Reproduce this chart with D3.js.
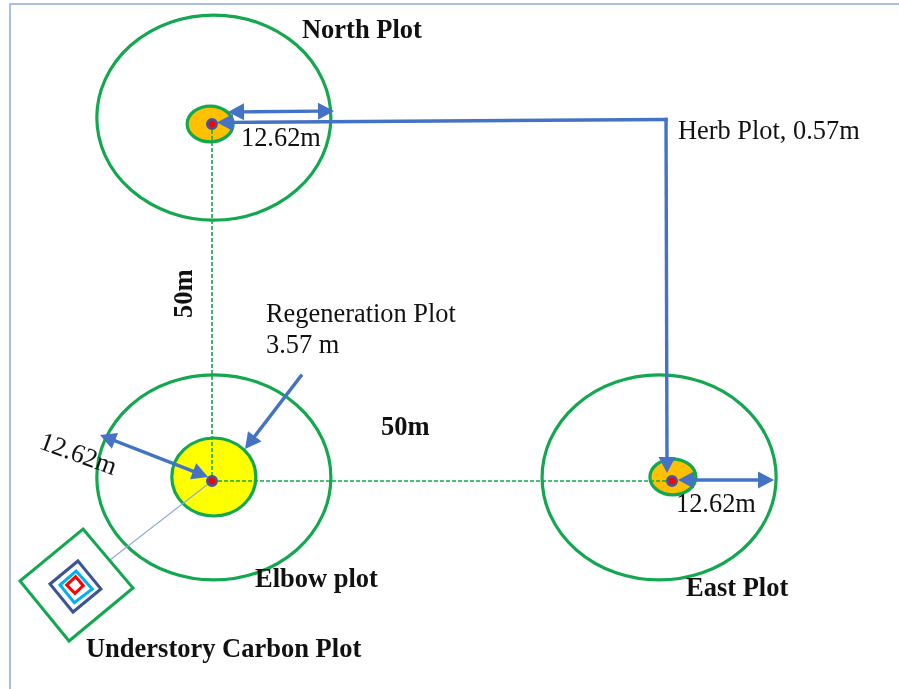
<!DOCTYPE html>
<html>
<head>
<meta charset="utf-8">
<script src="https://cdn.jsdelivr.net/npm/d3@7"></script>
<style>
  body { margin: 0; background: #fff; }
  svg { filter: blur(0.4px); }
  text { font-family: "Liberation Serif", serif; fill: #111; }
</style>
</head>
<body>
<div id="vis"></div>
<script>
// Schematic units: 50 units between the plot centres on each axis
// (the drawing is stretched, so x and y use different scales)
const plotCentres = [[0, 50], [0, 0], [50, 0]]
const bigPlots = [[0.2, 50.9], [0.2, 0.5], [48.6, 0.5]]
const bigRadius = [12.72, 14.36]
const herbPlots = [[-0.2, 50], [50.1, 0.56]]
const herbRadius = [2.5, 2.5]
const regenPlot = [0.2, 0.56]
const regenRadius = [4.57, 5.46]

const dashedLines = [
    [[0, 50], [0, 0]],
    [[0, 0], [50, 0]]
]
const carbonLeader = [[0, 0], [-11.09, -11.06]]

// Nested squares of the understory carbon plot, outermost first
const carbonSquares = [
    [[-14.02, -6.72], [-8.59, -14.99], [-15.54, -22.41], [-20.87, -14.01]],
    [[-14.57, -11.2], [-12.07, -15.13], [-15.11, -18.35], [-17.61, -14.43]],
    [[-14.78, -12.61], [-13.01, -15.13], [-14.97, -17.04], [-16.52, -14.57]],
    [[-14.82, -13.4], [-13.99, -14.66], [-14.89, -15.73], [-15.79, -14.57]]
]
const squareColours = ["#13a84f", "#3b5592", "#00b0f0", "#ff0000"]

const singleArrows = [
    [[49.35, 50.63], [0.54, 50.21]],
    [[49.35, 50.63], [49.46, 1.12]],
    [[9.67, 14.71], [3.59, 4.48]]
]
const doubleArrows = [
    [[1.74, 51.68], [13.26, 51.82]],
    [[50.65, 0.14], [61.09, 0.14]],
    [[-12.17, 6.44], [-0.43, 0.56]]
]

const plainLabels = [
    ["Herb Plot, 0.57m", 50.65, 47.9],
    ["12.62m", 3.15, 46.92],
    ["12.62m", 50.43, -4.34],
    ["Regeneration Plot", 5.87, 22.27],
    ["3.57 m", 5.87, 17.93]
]
const boldLabels = [
    ["North Plot", 9.78, 62.04],
    ["50m", 18.37, 6.44],
    ["Elbow plot", 4.67, -14.85],
    ["East Plot", 51.52, -16.1],
    ["Understory Carbon Plot", -13.7, -24.65]
]
const rotatedPlain = ["12.62m", -18.92, 4.62]
const rotatedBold = ["50m", -2.17, 22.83]

const width = 899
const height = 689
const green = "#13a84f"
const blue = "#4472c4"
const headLength = 16
const headWidth = 17

var x_scale = d3.scaleLinear().domain([0, 50]).range([212, 672])
var y_scale = d3.scaleLinear().domain([0, 50]).range([481, 124])

// Radii are lengths, so take them from the slope of each scale
const rx = function(u) { return Math.abs(x_scale(u) - x_scale(0)) }
const ry = function(u) { return Math.abs(y_scale(u) - y_scale(0)) }
const toPx = function(p) { return [x_scale(p[0]), y_scale(p[1])] }

let svg = d3.select("#vis")
    .append("svg")
    .attr("width", width)
    .attr("height", height)
    .style("display", "block")

// Page frame, only the top and left edges are visible
svg.append("path")
    .attr("d", `M10,${height}V4H${width}`)
    .attr("fill", "none")
    .attr("stroke", "#8faadc")
    .attr("stroke-width", 1.5)

function ellipses(data, radius, fill) {
    svg.append("g").selectAll("ellipse")
        .data(data)
        .enter()
        .append("ellipse")
        .attr("cx", d => x_scale(d[0]))
        .attr("cy", d => y_scale(d[1]))
        .attr("rx", rx(radius[0]))
        .attr("ry", ry(radius[1]))
        .attr("fill", fill)
        .attr("stroke", green)
        .attr("stroke-width", 3.2)
}

ellipses(bigPlots, bigRadius, "none")
ellipses([regenPlot], regenRadius, "#ffff00")
ellipses(herbPlots, herbRadius, "#ffc000")

const line = d3.line()

svg.append("g").selectAll("path")
    .data(dashedLines)
    .enter()
    .append("path")
    .attr("d", d => line(d.map(toPx)))
    .attr("stroke", green)
    .attr("stroke-width", 1.6)
    .attr("stroke-dasharray", "4 2")

svg.append("path")
    .attr("d", line(carbonLeader.map(toPx)))
    .attr("stroke", "#8faadc")
    .attr("stroke-width", 1.2)

svg.append("g").selectAll("path")
    .data(carbonSquares)
    .enter()
    .append("path")
    .attr("d", d => line(d.map(toPx)) + "Z")
    .attr("fill", (d, i) => i == 0 ? "#fff" : "none")
    .attr("stroke", (d, i) => squareColours[i])
    .attr("stroke-width", 3)

svg.append("g").selectAll("circle")
    .data(plotCentres)
    .enter()
    .append("circle")
    .attr("cx", d => x_scale(d[0]))
    .attr("cy", d => y_scale(d[1]))
    .attr("r", 4.6)
    .attr("fill", "#ff0000")
    .attr("stroke", "#44549e")
    .attr("stroke-width", 2.8)

// Triangle head whose tip sits on point b, coming from point a
function arrowHead(g, a, b) {
    const angle = Math.atan2(b[1] - a[1], b[0] - a[0])
    g.append("path")
        .attr("d", `M0,0L${-headLength},${-headWidth / 2}L${-headLength},${headWidth / 2}Z`)
        .attr("transform", `translate(${b[0]},${b[1]}) rotate(${angle * 180 / Math.PI})`)
        .attr("fill", blue)
}

// Pull the shaft back so it does not poke through the tip
function pullBack(a, b) {
    const len = Math.hypot(b[0] - a[0], b[1] - a[1])
    const t = (headLength - 2) / len
    return [b[0] - (b[0] - a[0]) * t, b[1] - (b[1] - a[1]) * t]
}

function drawArrow(d, both) {
    const a = toPx(d[0])
    const b = toPx(d[1])
    const g = svg.append("g")
    g.append("path")
        .attr("d", line([both ? pullBack(b, a) : a, pullBack(a, b)]))
        .attr("stroke", blue)
        .attr("stroke-width", 3.4)
        .attr("stroke-linecap", "square")
    arrowHead(g, a, b)
    if (both) arrowHead(g, b, a)
}

singleArrows.forEach(d => drawArrow(d, false))
doubleArrows.forEach(d => drawArrow(d, true))

function labels(data, weight, size) {
    svg.append("g").selectAll("text")
        .data(data)
        .enter()
        .append("text")
        .attr("x", d => x_scale(d[1]))
        .attr("y", d => y_scale(d[2]))
        .attr("font-size", size)
        .attr("font-weight", weight)
        .text(d => d[0])
}

labels(plainLabels, "normal", 26.4)
labels(boldLabels, "bold", 26.5)

function rotatedLabel(d, weight, size, angle) {
    svg.append("text")
        .attr("transform", `translate(${x_scale(d[1])},${y_scale(d[2])}) rotate(${angle})`)
        .attr("font-size", size)
        .attr("font-weight", weight)
        .text(d[0])
}

rotatedLabel(rotatedPlain, "normal", 26.4, 20)
rotatedLabel(rotatedBold, "bold", 26.5, -90)
</script>
</body>
</html>
